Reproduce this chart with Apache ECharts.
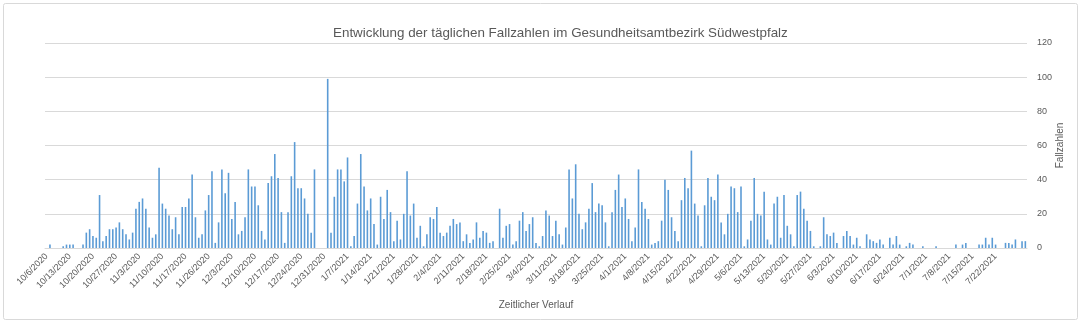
<!DOCTYPE html>
<html>
<head>
<meta charset="utf-8">
<script src="https://cdn.jsdelivr.net/npm/echarts@6/dist/echarts.min.js"></script>
<style>
  html, body { margin: 0; padding: 0; background: #ffffff; }
  #chart { width: 1083px; height: 328px; }
</style>
</head>
<body>
<div id="chart"></div>
<script>
// Reporting days start on 6 Oct 2020; two days in November have no entry.
const startDate = '2020-10-06';
const skippedDates = ['2020-11-21', '2020-11-22'];

// Daily new cases, one value per reporting day (one row per week).
const dailyCases = [
  0, 2, 0, 0, 0, 1, 2,
  2, 2, 0, 0, 2, 9, 11,
  7, 6, 31, 4, 7, 11, 11,
  12, 15, 11, 8, 5, 9, 23,
  27, 29, 23, 12, 6, 8, 47,
  26, 23, 19, 11, 18, 8, 24,
  24, 29, 43, 18, 6, 8, 22,
  31, 45, 3, 15, 46, 32, 44,
  17, 27, 8, 10, 18, 46, 36,
  36, 25, 10, 5, 38, 42, 55,
  41, 21, 3, 21, 42, 62, 35,
  35, 29, 20, 9, 46, 0, 0,
  0, 99, 9, 30, 46, 46, 39,
  53, 1, 7, 26, 55, 36, 22,
  29, 14, 2, 30, 17, 34, 21,
  4, 16, 5, 20, 45, 19, 26,
  6, 13, 1, 8, 18, 17, 24,
  9, 7, 9, 13, 17, 14, 15,
  4, 8, 3, 5, 15, 6, 10,
  9, 3, 4, 0, 23, 6, 13,
  14, 2, 4, 16, 21, 10, 14,
  18, 3, 1, 7, 22, 19, 7,
  16, 8, 2, 12, 46, 29, 49,
  20, 11, 15, 23, 38, 21, 26,
  25, 15, 1, 21, 34, 43, 24,
  29, 17, 4, 12, 46, 27, 23,
  17, 2, 3, 4, 16, 40, 34,
  18, 10, 4, 28, 41, 35, 57,
  26, 19, 1, 25, 41, 30, 28,
  43, 15, 8, 20, 36, 35, 21,
  36, 1, 5, 16, 41, 20, 19,
  33, 5, 2, 26, 30, 6, 31,
  13, 8, 1, 31, 33, 23, 16,
  10, 1, 0, 1, 18, 8, 7,
  9, 3, 0, 7, 10, 7, 2,
  6, 1, 0, 8, 5, 4, 3,
  5, 2, 0, 6, 2, 7, 2,
  0, 1, 3, 2, 0, 0, 1,
  0, 0, 0, 1, 0, 0, 0,
  0, 0, 2, 0, 2, 3, 0,
  0, 0, 2, 2, 6, 2, 6,
  2, 0, 0, 3, 3, 2, 5,
  0, 4, 4
];

// Value axis ticks
const yTicks = [0, 20, 40, 60, 80, 100, 120];

// Category labels shown every week, the last one on 22 Jul 2021
const labelStep = 7;
const lastLabelIndex = 287;

const titleText = 'Entwicklung der täglichen Fallzahlen im Gesundheitsamtbezirk Südwestpfalz';
const xAxisTitle = 'Zeitlicher Verlauf';
const yAxisTitle = 'Fallzahlen';

// Build the M/D/YYYY category list, leaving out the skipped days
function buildCategories(count) {
  const out = [];
  const d = new Date(startDate + 'T00:00:00Z');
  while (out.length < count) {
    const iso = d.toISOString().slice(0, 10);
    if (!skippedDates.includes(iso)) {
      out.push((d.getUTCMonth() + 1) + '/' + d.getUTCDate() + '/' + d.getUTCFullYear());
    }
    d.setUTCDate(d.getUTCDate() + 1);
  }
  return out;
}
const categories = buildCategories(dailyCases.length);

const textColor = '#595959';
const gridColor = '#d9d9d9';
const font = 'Liberation Sans, Arial, sans-serif';

const chart = echarts.init(document.getElementById('chart'), null, { renderer: 'canvas' });
chart.setOption({
  animation: false,
  backgroundColor: '#ffffff',
  textStyle: { fontFamily: font },
  title: {
    text: titleText,
    left: 328,
    top: 22,
    textStyle: { fontSize: 13.4, fontWeight: 'normal', color: textColor, fontFamily: font }
  },
  graphic: [{
    type: 'rect',
    shape: { x: 3.5, y: 3.5, width: 1074, height: 316, r: 2 },
    style: { fill: 'none', stroke: '#d9d9d9', lineWidth: 1 },
    silent: true
  }],
  grid: { left: 45, right: 56, top: 43, bottom: 80, containLabel: false },
  xAxis: {
    type: 'category',
    data: categories,
    name: xAxisTitle,
    nameLocation: 'middle',
    nameGap: 52,
    nameTextStyle: { fontSize: 10, color: textColor },
    axisLine: { lineStyle: { color: gridColor } },
    axisTick: { show: false },
    axisLabel: {
      rotate: 45,
      fontSize: 9,
      color: textColor,
      margin: 7,
      interval: (index) => index % labelStep === 0 && index <= lastLabelIndex
    }
  },
  yAxis: {
    type: 'value',
    position: 'right',
    min: yTicks[0],
    max: yTicks[yTicks.length - 1],
    interval: yTicks[1] - yTicks[0],
    name: yAxisTitle,
    nameLocation: 'middle',
    nameGap: 28,
    nameMoveOverlap: false,
    nameRotate: 90,
    nameTextStyle: { fontSize: 10, color: textColor },
    axisLine: { show: false },
    axisTick: { show: false },
    axisLabel: { fontSize: 9, color: textColor, margin: 10 },
    splitLine: { lineStyle: { color: gridColor, width: 1 } }
  },
  series: [{
    type: 'bar',
    data: dailyCases,
    barWidth: 1.6,
    itemStyle: { color: '#5b9bd5' }
  }]
});
</script>
</body>
</html>
